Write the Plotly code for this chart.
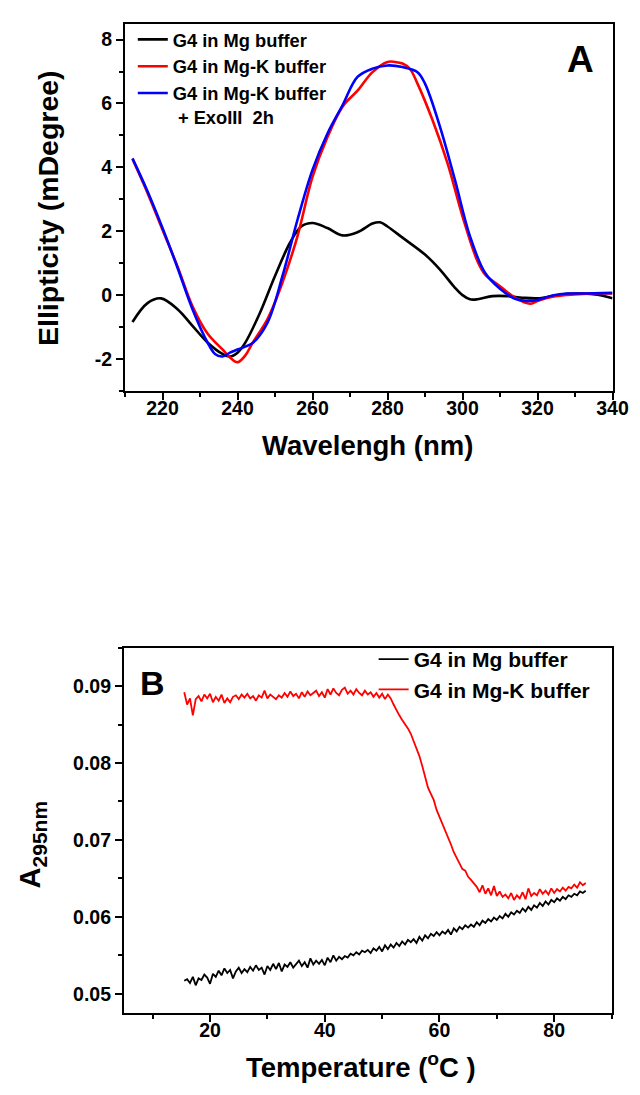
import plotly.graph_objects as go

W, H = 640, 1095

# ---------------- Panel A : CD spectra ----------------
wl_mg = [212, 216, 219.6, 224, 228, 232, 236, 238, 240, 242, 246, 250, 254, 257, 260, 264, 268,
         272, 276, 278, 280, 284, 290, 294, 298, 300, 302, 304, 308, 312, 316, 320, 324, 328,
         332, 336, 340]
cd_mg = [-0.84, -0.25, -0.10, -0.44, -0.96, -1.48, -1.84, -1.92, -1.80, -1.50, -0.55, 0.60, 1.64,
         2.15, 2.26, 2.10, 1.87, 1.97, 2.24, 2.28, 2.15, 1.80, 1.27, 0.80, 0.23, 0.00, -0.13,
         -0.13, -0.03, -0.03, -0.08, -0.10, -0.03, 0.04, 0.05, 0.01, -0.10]

wl_mgk = [212, 216, 220, 224, 228, 232, 236, 238, 240, 242, 244, 248, 252, 256, 260, 264, 268,
          272, 276, 280, 282, 284, 286, 288, 292, 296, 300, 304, 306, 310, 314, 318, 320, 324,
          328, 332, 336, 340]
cd_mgk = [4.26, 3.20, 2.05, 0.90, -0.35, -1.20, -1.70, -1.95, -2.10, -1.90, -1.50, -0.75, 0.40,
          1.85, 3.70, 4.95, 5.90, 6.40, 6.98, 7.30, 7.30, 7.25, 7.08, 6.62, 5.48, 4.13, 2.47,
          1.06, 0.65, 0.28, -0.08, -0.27, -0.18, -0.05, 0.01, 0.04, 0.05, 0.05]

wl_exo = [212, 216, 220, 224, 228, 232, 234, 236, 238, 240, 244, 248, 252, 256, 260, 264, 268,
          272, 276, 280, 284, 288, 290, 294, 298, 302, 306, 310, 314, 318, 320, 324, 328, 332,
          340]
cd_exo = [4.28, 3.25, 2.10, 0.86, -0.44, -1.48, -1.84, -1.92, -1.80, -1.70, -1.50, -0.86, 0.60,
          2.36, 3.92, 5.06, 5.94, 6.83, 7.09, 7.19, 7.14, 6.98, 6.62, 5.27, 3.60, 1.84, 0.70,
          0.20, -0.11, -0.18, -0.15, -0.01, 0.05, 0.05, 0.07]

cd_tickvals = [-2, 0, 2, 4, 6, 8]
cd_ticktext = ["-2", "0", "2", "4", "6", "8"]

# ---------------- Panel B : melting curves ----------------
temp = [15.5 + 0.5 * i for i in range(141)]

a_mgk = [0.0892, 0.0876, 0.0884, 0.0862, 0.0883, 0.0887, 0.0880, 0.0889, 0.0884, 0.0890,
         0.0879, 0.0886, 0.0881, 0.0889, 0.0878, 0.0884, 0.0879, 0.0886, 0.0888, 0.0883,
         0.0889, 0.0885, 0.0890, 0.0884, 0.0887, 0.0881, 0.0888, 0.0885, 0.0894, 0.0884,
         0.0889, 0.0886, 0.0883, 0.0888, 0.0885, 0.0891, 0.0886, 0.0893, 0.0887, 0.0890,
         0.0884, 0.0892, 0.0886, 0.0893, 0.0888, 0.0891, 0.0894, 0.0887, 0.0892, 0.0885,
         0.0896, 0.0889, 0.0897, 0.0891, 0.0888, 0.0895, 0.0898, 0.0890, 0.0894, 0.0889,
         0.0896, 0.0891, 0.0888, 0.0894, 0.0889, 0.0892, 0.0886, 0.0891, 0.0885, 0.0890,
         0.0883, 0.0889, 0.0884, 0.0876, 0.0868, 0.0862, 0.0856, 0.0851, 0.0845, 0.0838,
         0.0829, 0.0818, 0.0809, 0.0796, 0.0781, 0.0768, 0.0760, 0.0752, 0.0739, 0.0730,
         0.0722, 0.0714, 0.0703, 0.0694, 0.0684, 0.0676, 0.0670, 0.0662, 0.0660, 0.0652,
         0.0648, 0.0643, 0.0639, 0.0632, 0.0641, 0.0630, 0.0637, 0.0628, 0.0640, 0.0627,
         0.0633, 0.0626, 0.0629, 0.0624, 0.0631, 0.0622, 0.0628, 0.0624, 0.0632, 0.0623,
         0.0637, 0.0627, 0.0631, 0.0628, 0.0636, 0.0630, 0.0634, 0.0629, 0.0637, 0.0631,
         0.0636, 0.0633, 0.0638, 0.0634, 0.0639, 0.0637, 0.0642, 0.0638, 0.0645, 0.0641,
         0.0644]

a_mg = [0.0517, 0.0519, 0.0514, 0.0522, 0.0511, 0.0520, 0.0518, 0.0525, 0.0521, 0.0513,
        0.0526, 0.0522, 0.0530, 0.0524, 0.0533, 0.0527, 0.0531, 0.0520, 0.0529, 0.0534,
        0.0527, 0.0532, 0.0528, 0.0535, 0.0530, 0.0537, 0.0531, 0.0534, 0.0525, 0.0536,
        0.0531, 0.0539, 0.0532, 0.0540, 0.0529, 0.0538, 0.0535, 0.0541, 0.0534, 0.0539,
        0.0543, 0.0536, 0.0541, 0.0534, 0.0546, 0.0538, 0.0543, 0.0539, 0.0544, 0.0537,
        0.0547, 0.0541, 0.0550, 0.0543, 0.0548, 0.0545, 0.0549, 0.0547, 0.0552, 0.0550,
        0.0554, 0.0551, 0.0556, 0.0554, 0.0557, 0.0553, 0.0559, 0.0556, 0.0561, 0.0555,
        0.0563, 0.0558, 0.0564, 0.0560, 0.0566, 0.0562, 0.0568, 0.0564, 0.0570, 0.0567,
        0.0571, 0.0566, 0.0574, 0.0569, 0.0576, 0.0572, 0.0578, 0.0575, 0.0580, 0.0576,
        0.0581, 0.0578, 0.0583, 0.0577, 0.0585, 0.0581, 0.0587, 0.0584, 0.0589, 0.0586,
        0.0590, 0.0587, 0.0593, 0.0589, 0.0595, 0.0592, 0.0597, 0.0594, 0.0599, 0.0596,
        0.0601, 0.0598, 0.0604, 0.0600, 0.0606, 0.0603, 0.0608, 0.0605, 0.0611, 0.0607,
        0.0613, 0.0609, 0.0615, 0.0612, 0.0618, 0.0614, 0.0620, 0.0616, 0.0622, 0.0619,
        0.0624, 0.0621, 0.0626, 0.0623, 0.0628, 0.0626, 0.0630, 0.0628, 0.0633, 0.0631,
        0.0634]

names_a = ["G4 in Mg buffer", "G4 in Mg-K buffer", "G4 in Mg-K buffer<br> + ExoIII  2h"]
names_b = ["G4 in Mg buffer", "G4 in Mg-K buffer"]

FONT = "Liberation Sans, Arial, sans-serif"


def px_x(p):
    return p / W


def px_y(p):
    return 1 - p / H


fig = go.Figure()

fig.add_trace(go.Scatter(x=wl_mg, y=cd_mg, mode="lines", name=names_a[0],
                         line=dict(color="#000000", width=2.6, shape="spline", smoothing=1.0),
                         xaxis="x", yaxis="y", legend="legend"))
fig.add_trace(go.Scatter(x=wl_mgk, y=cd_mgk, mode="lines", name=names_a[1],
                         line=dict(color="#ff0000", width=2.6, shape="spline", smoothing=1.0),
                         xaxis="x", yaxis="y", legend="legend"))
fig.add_trace(go.Scatter(x=wl_exo, y=cd_exo, mode="lines", name=names_a[2],
                         line=dict(color="#0000ff", width=2.6, shape="spline", smoothing=1.0),
                         xaxis="x", yaxis="y", legend="legend"))

fig.add_trace(go.Scatter(x=temp, y=a_mg, mode="lines", name=names_b[0],
                         line=dict(color="#000000", width=1.8),
                         xaxis="x2", yaxis="y2", legend="legend2"))
fig.add_trace(go.Scatter(x=temp, y=a_mgk, mode="lines", name=names_b[1],
                         line=dict(color="#ff0000", width=1.8),
                         xaxis="x2", yaxis="y2", legend="legend2"))

tickfont = dict(family=FONT, size=19.5, color="#000000", weight="bold")
common = dict(showline=True, linecolor="#000000", linewidth=2.2, mirror=True,
              ticks="outside", ticklen=7, tickwidth=2, tickcolor="#000000",
              showgrid=False, zeroline=False, tickfont=tickfont)
minor_style = dict(ticks="outside", ticklen=4, tickwidth=2, tickcolor="#000000")

fig.update_layout(
    width=W, height=H,
    margin=dict(l=0, r=0, t=0, b=0),
    paper_bgcolor="white", plot_bgcolor="white",
    xaxis=dict(domain=[px_x(120), px_x(620)], range=[210, 340], dtick=20, tick0=200,
               minor=dict(dtick=10, **minor_style), ticklabelstandoff=-9,
               anchor="y", **common),
    yaxis=dict(domain=[px_y(383), px_y(15.6)], range=[-3, 8.5],
               tickmode="array", tickvals=cd_tickvals, ticktext=cd_ticktext,
               minor=dict(dtick=1, tick0=0, **minor_style),
               anchor="x", **common),
    xaxis2=dict(domain=[px_x(119), px_x(619)], range=[5, 90], dtick=20, tick0=0,
                minor=dict(dtick=10, **minor_style), ticklabelstandoff=-9,
                anchor="y2", **common),
    yaxis2=dict(domain=[px_y(1005), px_y(639.6)], range=[0.0475, 0.095], dtick=0.01, tick0=0.05,
                tickformat=".2f",
                minor=dict(dtick=0.005, **minor_style),
                anchor="x2", **common),
    legend=dict(x=px_x(128), y=px_y(13), xanchor="left", yanchor="top",
                bgcolor="rgba(0,0,0,0)", borderwidth=0, valign="top",
                font=dict(family=FONT, size=18.3, color="#000000", weight="bold"),
                itemwidth=30, tracegroupgap=0),
    legend2=dict(x=px_x(375), y=px_y(631), xanchor="left", yanchor="top",
                 bgcolor="rgba(0,0,0,0)", borderwidth=0,
                 font=dict(family=FONT, size=21, color="#000000", weight="bold"),
                 itemwidth=30, tracegroupgap=0),
    showlegend=True,
)

title_font = dict(family=FONT, size=27.5, color="#000000", weight="bold")
annotations = [
    dict(text="Ellipticity (mDegree)", x=px_x(41), y=px_y(200), textangle=-90,
         font=dict(family=FONT, size=28.5, color="#000000", weight="bold")),
    dict(text="Wavelengh (nm)", x=px_x(369), y=px_y(437), font=title_font),
    dict(text="A", x=px_x(587), y=px_y(51), font=dict(family=FONT, size=37, color="#000000", weight="bold")),
    dict(text="Temperature (<sup>o</sup>C )", x=px_x(362), y=px_y(1057), font=title_font),
    dict(text="<span style='font-size:29px'>A</span><sub>295nm</sub>", x=px_x(25), y=px_y(836),
         textangle=-90, font=dict(family=FONT, size=30, color="#000000", weight="bold")),
    dict(text="B", x=px_x(148), y=px_y(675), font=dict(family=FONT, size=34, color="#000000", weight="bold")),
]
for a in annotations:
    fig.add_annotation(xref="paper", yref="paper", showarrow=False,
                       xanchor="center", yanchor="middle", **a)

fig.write_html("out.html")
